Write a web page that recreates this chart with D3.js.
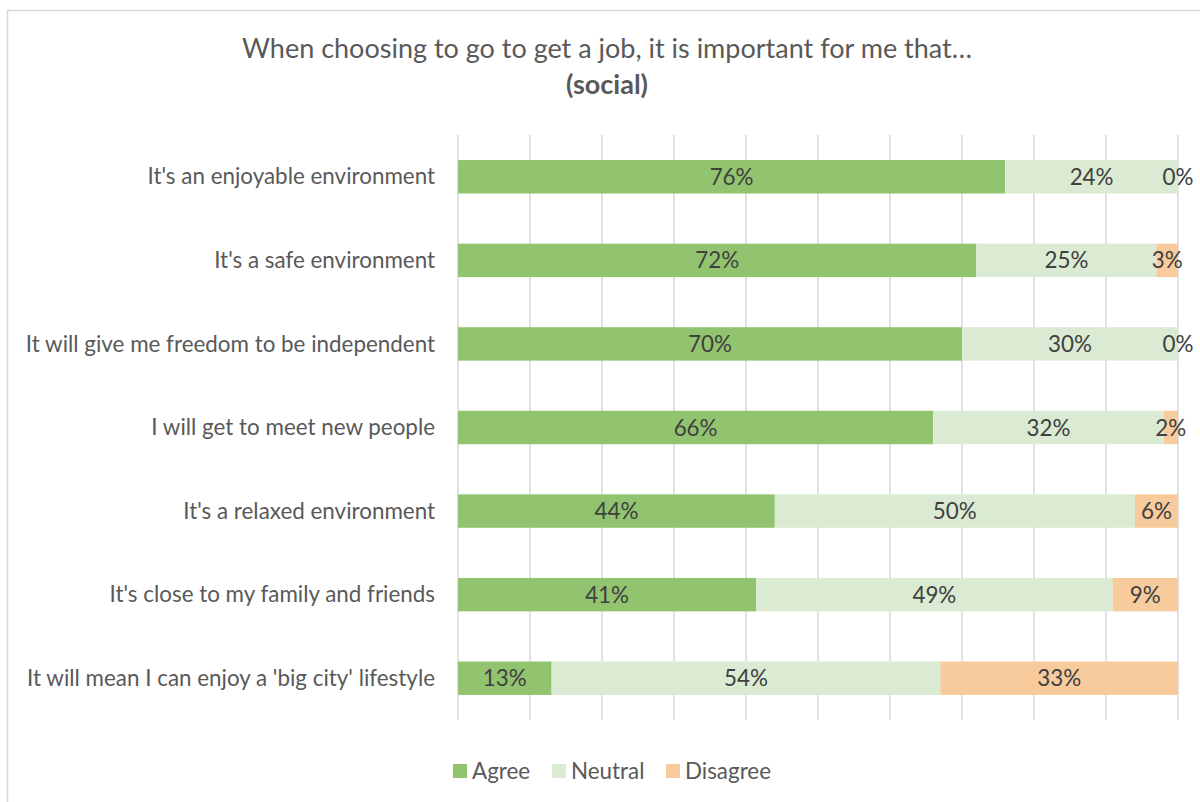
<!DOCTYPE html>
<html>
<head>
<meta charset="utf-8">
<script src="https://cdn.jsdelivr.net/npm/d3@7"></script>
<style>
  html, body { margin: 0; padding: 0; background: #ffffff; }
  svg { display: block; }
  text { font-family: Lato, "Open Sans", sans-serif; }
</style>
</head>
<body>
<svg id="chart" width="1200" height="802"></svg>
<script>
// Survey statements (top to bottom)
const categories = [
  "It's an enjoyable environment",
  "It's a safe environment",
  "It will give me freedom to be independent",
  "I will get to meet new people",
  "It's a relaxed environment",
  "It's close to my family and friends",
  "It will mean I can enjoy a 'big city' lifestyle"
];
// Share of respondents (%) per answer
const agree    = [76, 72, 70, 66, 44, 41, 13];
const neutral  = [24, 25, 30, 32, 50, 49, 54];
const disagree = [0, 3, 0, 2, 6, 9, 33];

const seriesNames = ["Agree", "Neutral", "Disagree"];
const colors = ["#92c46f", "#dbebd3", "#f8cb9c"];
const gridTicks = [0, 0.1, 0.2, 0.3, 0.4, 0.5, 0.6, 0.7, 0.8, 0.9, 1];

const rows = categories.map((c, i) => ({
  category: c, Agree: agree[i], Neutral: neutral[i], Disagree: disagree[i]
}));

const svg = d3.select("#chart");

// Chart frame
svg.append("rect")
  .attr("x", 7.5).attr("y", 10.5)
  .attr("width", 1220).attr("height", 820)
  .attr("fill", "#ffffff")
  .attr("stroke", "#d9d9d9").attr("stroke-width", 1.5);

const plot = { left: 458, right: 1178, top: 135, bottom: 720 };

const x = d3.scaleLinear().domain([0, 1]).range([plot.left, plot.right]);
const y = d3.scaleBand().domain(categories)
  .range([plot.top, plot.bottom])
  .paddingInner(0.6).paddingOuter(0.3);

// Vertical gridlines
svg.append("g")
  .selectAll("line")
  .data(gridTicks)
  .join("line")
  .attr("x1", d => x(d)).attr("x2", d => x(d))
  .attr("y1", plot.top).attr("y2", plot.bottom)
  .attr("stroke", "#d9d9d9").attr("stroke-width", 1.5);

// 100% stacked layout
const stacked = d3.stack().keys(seriesNames).offset(d3.stackOffsetExpand)(rows);

const layers = svg.append("g")
  .selectAll("g")
  .data(stacked)
  .join("g")
  .attr("fill", (d, i) => colors[i]);

layers.selectAll("rect")
  .data(d => d)
  .join("rect")
  .attr("x", d => x(d[0]))
  .attr("width", d => x(d[1]) - x(d[0]))
  .attr("y", d => y(d.data.category))
  .attr("height", y.bandwidth());

// Value labels centred in each segment
const labels = svg.append("g")
  .attr("font-size", 22.4)
  .attr("fill", "#404040")
  .attr("text-anchor", "middle");

stacked.forEach(layer => {
  labels.selectAll(null)
    .data(layer)
    .join("text")
    .attr("x", d => x((d[0] + d[1]) / 2))
    .attr("y", d => y(d.data.category) + y.bandwidth() / 2)
    .attr("dy", "0.36em")
    .text(d => d.data[layer.key] + "%");
});

// Category axis
const yAxis = svg.append("g")
  .attr("transform", `translate(${plot.left},0)`)
  .call(d3.axisLeft(y).tickSize(0).tickPadding(23));
yAxis.select(".domain").remove();
yAxis.selectAll("text")
  .attr("font-family", "Lato, sans-serif")
  .attr("font-size", 22.4)
  .attr("fill", "#595959")
  .attr("dy", "0.34em");

// Title
svg.append("text")
  .attr("x", 607).attr("y", 58)
  .attr("text-anchor", "middle")
  .attr("font-size", 27)
  .attr("fill", "#595959")
  .text("When choosing to go to get a job, it is important for me that…");
svg.append("text")
  .attr("x", 607).attr("y", 94)
  .attr("text-anchor", "middle")
  .attr("font-size", 27)
  .attr("font-weight", "bold")
  .attr("fill", "#595959")
  .text("(social)");

// Legend
const legendX = [453, 552, 666];
const legend = svg.append("g").selectAll("g")
  .data(seriesNames)
  .join("g")
  .attr("transform", (d, i) => `translate(${legendX[i]},764)`);
legend.append("rect")
  .attr("width", 14).attr("height", 14)
  .attr("fill", (d, i) => colors[i]);
legend.append("text")
  .attr("x", 19).attr("y", 7)
  .attr("dy", "0.36em")
  .attr("font-size", 22.4)
  .attr("fill", "#595959")
  .text(d => d);
</script>
</body>
</html>
